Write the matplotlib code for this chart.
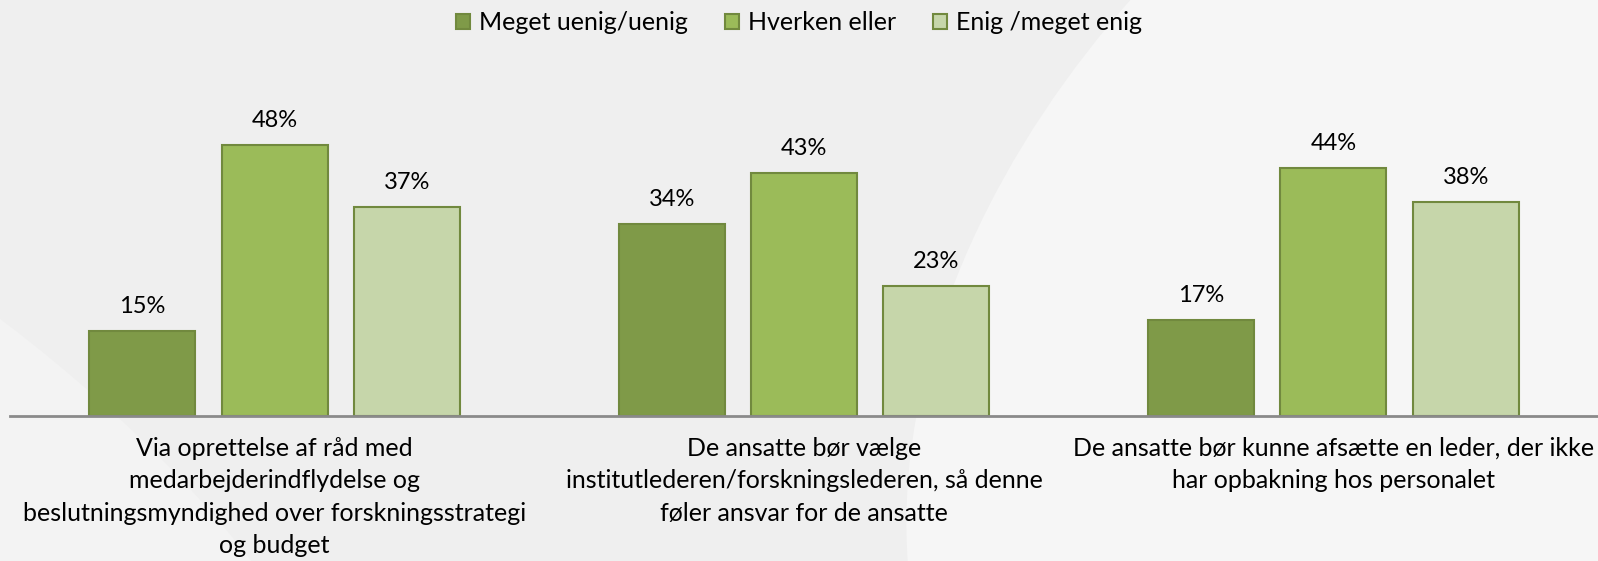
import matplotlib.pyplot as plt
import numpy as np
from matplotlib.patches import Ellipse

plt.rcParams['font.family'] = ['Lato', 'DejaVu Sans']

# data
kategorier = [
    "Via oprettelse af råd med\nmedarbejderindflydelse og\nbeslutningsmyndighed over forskningsstrategi\nog budget",
    "De ansatte bør vælge\ninstitutlederen/forskningslederen, så denne\nføler ansvar for de ansatte",
    "De ansatte bør kunne afsætte en leder, der ikke\nhar opbakning hos personalet",
]
serier = ["Meget uenig/uenig", "Hverken eller", "Enig /meget enig"]
uenig = [15, 34, 17]
hverken = [48, 43, 44]
enig = [37, 23, 38]

farver = ['#7f9a48', '#9bbb59', '#c6d6aa']
kant = '#71893e'

fig = plt.figure(figsize=(15.98, 5.61), dpi=100)
fig.patch.set_facecolor('#efefef')

# baggrund (lyse buer)
bg = fig.add_axes([0, 0, 1, 1], zorder=-1)
bg.set_xlim(0, 1)
bg.set_ylim(0, 1)
bg.axis('off')
bg.add_patch(Ellipse((1.02, 0.45), 0.85, 2.4, angle=-8, color='#f6f6f6', lw=0))
bg.add_patch(Ellipse((-0.1, 0.15), 0.4, 1.5, angle=20, color='#f3f3f3', lw=0))

ax = fig.add_axes([10/1598, 145/561, 1588/1598, 356/561])
ax.patch.set_alpha(0)

x = np.arange(len(kategorier))
b = 0.2
for i, (vals, navn) in enumerate(zip([uenig, hverken, enig], serier)):
    bars = ax.bar(x + (i - 1) * 0.25, vals, b, color=farver[i], edgecolor=kant,
                  linewidth=1.5, label=navn)
    for r, v in zip(bars, vals):
        ax.annotate(f"{v}%", (r.get_x() + r.get_width() / 2, v), xytext=(0, 10),
                    textcoords='offset points', ha='center', va='bottom', fontsize=17)

ax.set_xlim(-0.5, 2.5)
ax.set_ylim(0, 63.07)
ax.set_xticks(x)
ax.set_xticklabels(kategorier, fontsize=18, linespacing=1.5)
ax.tick_params(axis='x', length=0, pad=15)
ax.set_yticks([])
for s in ['top', 'right', 'left']:
    ax.spines[s].set_visible(False)
ax.spines['bottom'].set_color('#8a8a8a')
ax.spines['bottom'].set_linewidth(2)

fig.legend(loc='center', bbox_to_anchor=(0.5, 1 - 23/561), ncol=3, frameon=False,
           fontsize=18, handlelength=0.55, handleheight=0.55, handletextpad=0.35,
           columnspacing=1.5)

fig.savefig('out.png', dpi=100, facecolor=fig.get_facecolor())
